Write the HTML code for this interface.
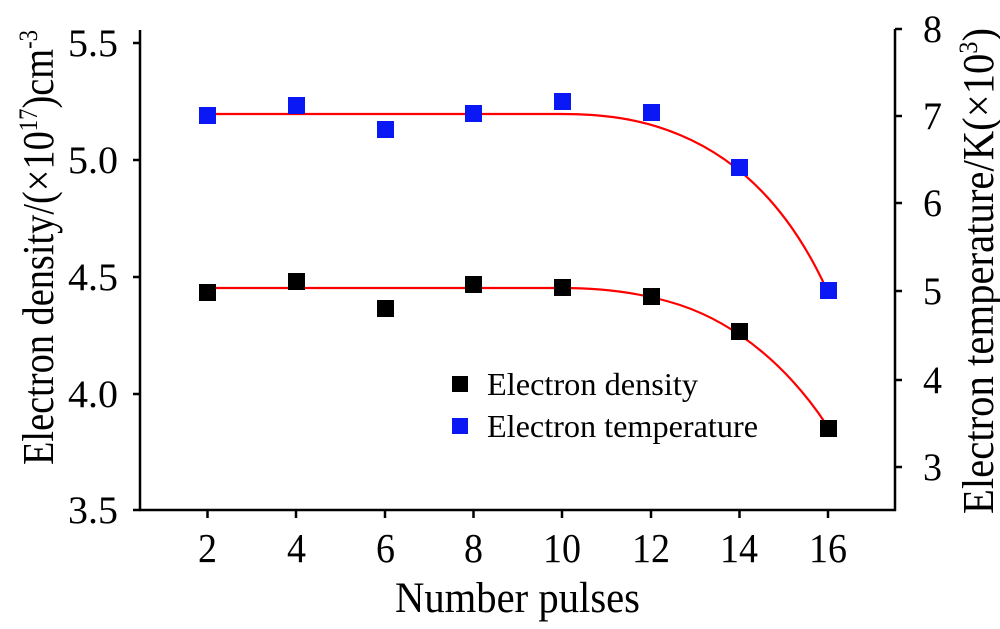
<!DOCTYPE html>
<html><head><style>body{margin:0;background:#fff}</style></head><body>
<svg width="1000" height="624" xmlns="http://www.w3.org/2000/svg" font-family="Liberation Serif, serif">
<g stroke="#000" stroke-width="2.5" fill="none">
<line x1="140" y1="30" x2="140" y2="511"/>
<line x1="895" y1="29" x2="895" y2="511"/>
<line x1="139" y1="510" x2="896" y2="510"/>
<path d="M133 43H140M133 160H140M133 277H140M133 394H140M133 510H140"/>
<path d="M895 29H902M895 116H902M895 203H902M895 291H902M895 380H902M895 467H902"/>
<path d="M207.5 510V518M296 510V518M385 510V518M473.5 510V518M562 510V518M651 510V518M739.5 510V518M828 510V518"/>
</g>
<g font-size="39" fill="#000">
<text x="68" y="56" textLength="50" lengthAdjust="spacingAndGlyphs">5.5</text>
<text x="68" y="173" textLength="50" lengthAdjust="spacingAndGlyphs">5.0</text>
<text x="68" y="290" textLength="50" lengthAdjust="spacingAndGlyphs">4.5</text>
<text x="68" y="407" textLength="50" lengthAdjust="spacingAndGlyphs">4.0</text>
<text x="68" y="523" textLength="50" lengthAdjust="spacingAndGlyphs">3.5</text>
</g>
<g font-size="39" fill="#000">
<text x="923" y="42" textLength="19" lengthAdjust="spacingAndGlyphs">8</text><text x="923" y="129" textLength="19" lengthAdjust="spacingAndGlyphs">7</text><text x="923" y="216" textLength="19" lengthAdjust="spacingAndGlyphs">6</text><text x="923" y="304" textLength="19" lengthAdjust="spacingAndGlyphs">5</text><text x="923" y="393" textLength="19" lengthAdjust="spacingAndGlyphs">4</text><text x="923" y="480" textLength="19" lengthAdjust="spacingAndGlyphs">3</text>
</g>
<g font-size="41" fill="#000">
<text x="198" y="562" textLength="19" lengthAdjust="spacingAndGlyphs">2</text><text x="287" y="562" textLength="19" lengthAdjust="spacingAndGlyphs">4</text><text x="376" y="562" textLength="19" lengthAdjust="spacingAndGlyphs">6</text><text x="464" y="562" textLength="19" lengthAdjust="spacingAndGlyphs">8</text>
<text x="543" y="562" textLength="38" lengthAdjust="spacingAndGlyphs">10</text><text x="632" y="562" textLength="38" lengthAdjust="spacingAndGlyphs">12</text><text x="720" y="562" textLength="38" lengthAdjust="spacingAndGlyphs">14</text><text x="809" y="562" textLength="38" lengthAdjust="spacingAndGlyphs">16</text>
</g>
<text x="395" y="612" font-size="43" textLength="245" lengthAdjust="spacingAndGlyphs">Number pulses</text>
<text transform="translate(53,465) rotate(-90)" font-size="44" textLength="435" lengthAdjust="spacingAndGlyphs">Electron density/(×10<tspan dy="-16" font-size="26">17</tspan><tspan dy="16">)cm</tspan><tspan dy="-16" font-size="26">-3</tspan></text>
<text transform="translate(993,514) rotate(-90)" font-size="44" textLength="486" lengthAdjust="spacingAndGlyphs">Electron temperature/K(×10<tspan dy="-16" font-size="26">3</tspan><tspan dy="16">)</tspan></text>
<g fill="none" stroke="#f00" stroke-width="2.2">
<path d="M207 114 L562 114 C600 114 640 118 680 135 C740 160 790 210 826 288"/>
<path d="M207 288 L562 288 C600 288 640 292 680 305 C740 325 790 370 826 424"/>
</g>
<g fill="#000">
<rect x="199" y="284" width="17" height="17"/><rect x="288" y="273" width="17" height="17"/><rect x="377" y="300" width="17" height="17"/><rect x="465" y="276" width="17" height="17"/><rect x="554" y="279" width="17" height="17"/><rect x="643" y="288" width="17" height="17"/><rect x="731" y="323" width="17" height="17"/><rect x="820" y="420" width="17" height="17"/>
<rect x="452" y="376" width="16" height="16"/>
</g>
<g fill="#0a18f5">
<rect x="199" y="107" width="17" height="17"/><rect x="288" y="97" width="17" height="17"/><rect x="377" y="121" width="17" height="17"/><rect x="465" y="105" width="17" height="17"/><rect x="554" y="93" width="17" height="17"/><rect x="643" y="104" width="17" height="17"/><rect x="731" y="159" width="17" height="17"/><rect x="820" y="282" width="17" height="17"/>
<rect x="452" y="418" width="16" height="16"/>
</g>
<g font-size="32" fill="#000">
<text x="487" y="395" textLength="211" lengthAdjust="spacingAndGlyphs">Electron density</text>
<text x="487" y="437" textLength="271" lengthAdjust="spacingAndGlyphs">Electron temperature</text>
</g>
</svg>
</body></html>
